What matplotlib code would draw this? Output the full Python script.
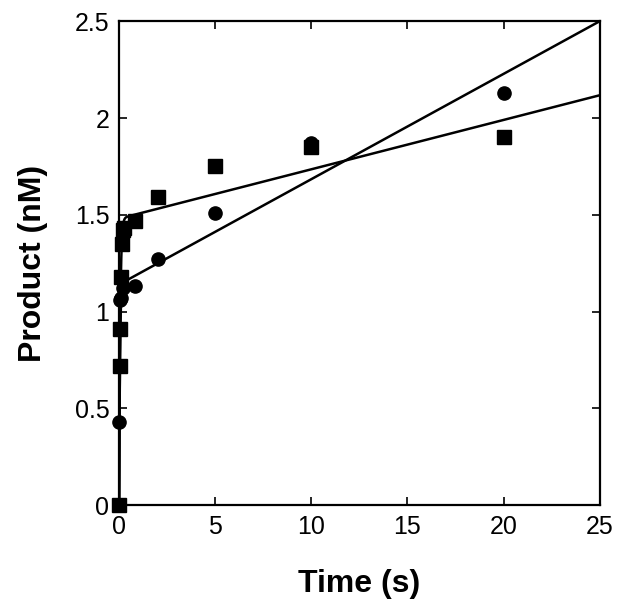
import numpy as np
import matplotlib
matplotlib.use("Agg")
import matplotlib.pyplot as plt

plt.rcParams['font.family'] = ['Liberation Sans', 'DejaVu Sans']

# data
t_circ = [0, 0.01, 0.05, 0.1, 0.2, 0.8, 2, 5, 10, 20]
p_circ = [0, 0.43, 1.06, 1.07, 1.12, 1.13, 1.27, 1.51, 1.87, 2.13]
t_sq = [0, 0.02, 0.05, 0.1, 0.15, 0.2, 0.25, 0.8, 2, 5, 10, 20]
p_sq = [0, 0.72, 0.91, 1.18, 1.35, 1.42, 1.43, 1.47, 1.59, 1.75, 1.85, 1.90]

# burst fit parameters: amplitude, rate (1/s), steady-state slope (nM/s)
fit_circ = (1.14, 25.0, 0.0544)
fit_sq = (1.48, 18.0, 0.0255)

def burst(t, A, k, v):
    return A * (1 - np.exp(-k * t)) + v * t

fig = plt.figure(figsize=(6.24, 6.07), dpi=100)
ax = fig.add_axes([0.191, 0.168, 0.770, 0.797])

tt = np.concatenate([np.linspace(0, 1, 400), np.linspace(1, 25, 100)])
ax.plot(tt, burst(tt, *fit_circ), color='black', lw=1.8)
ax.plot(tt, burst(tt, *fit_sq), color='black', lw=1.8)
ax.plot(t_circ, p_circ, 'o', color='black', ms=9.5, clip_on=False)
ax.plot(t_sq, p_sq, 's', color='black', ms=9.5, clip_on=False)

ax.set_xlim(0, 25)
ax.set_ylim(0, 2.5)
ax.set_xticks([0, 5, 10, 15, 20, 25])
ax.set_yticks([0, 0.5, 1, 1.5, 2, 2.5])
ax.set_yticklabels(['0', '0.5', '1', '1.5', '2', '2.5'])
ax.tick_params(direction='in', top=True, right=True, length=6, width=1.2,
               labelsize=18, pad=7)
for s in ax.spines.values():
    s.set_linewidth(1.6)

ax.set_xlabel('Time (s)', fontsize=23, fontweight='bold', labelpad=22)
ax.set_ylabel('Product (nM)', fontsize=23, fontweight='bold', labelpad=19)

fig.savefig('out.png', dpi=100)
